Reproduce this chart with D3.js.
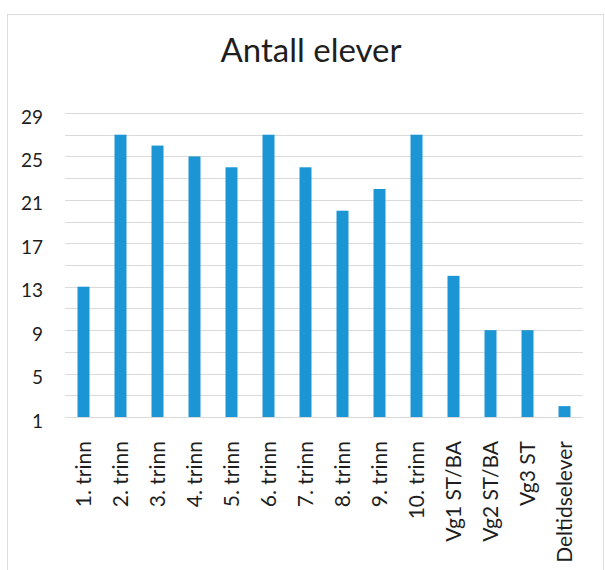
<!DOCTYPE html>
<html>
<head>
<meta charset="utf-8">
<script src="https://cdn.jsdelivr.net/npm/d3@7"></script>
<style>
  body { margin: 0; background: #fff; }
  svg { display: block; font-family: Lato, "Open Sans", sans-serif; }
</style>
</head>
<body>
<svg id="chart" width="605" height="570"></svg>
<script>
var title = "Antall elever"

var categories = ["1. trinn", "2. trinn", "3. trinn", "4. trinn", "5. trinn", "6. trinn",
	"7. trinn", "8. trinn", "9. trinn", "10. trinn", "Vg1 ST/BA", "Vg2 ST/BA", "Vg3 ST", "Deltidselever"]

var values = [13, 27, 26, 25, 24, 27, 24, 20, 22, 27, 14, 9, 9, 2]

var yTicks = [1, 5, 9, 13, 17, 21, 25, 29]
var gridValues = d3.range(1, 30, 2)

var svg = d3.select("#chart")

// chart frame
svg.append("rect")
	.attr("x", 7.5).attr("y", 14.5)
	.attr("width", 596).attr("height", 600)
	.attr("fill", "none")
	.attr("stroke", "#dcdcdc")

var x = d3.scaleBand()
	.domain(categories)
	.range([65, 583])
	.paddingInner(0.676)
	.paddingOuter(0.338)

var y = d3.scaleLinear()
	.domain([1, 29])
	.range([417, 113])

// gridlines
svg.append("g")
	.selectAll("line")
	.data(gridValues)
	.join("line")
	.attr("x1", 65).attr("x2", 583)
	.attr("y1", d => Math.round(y(d)) + 0.5)
	.attr("y2", d => Math.round(y(d)) + 0.5)
	.attr("stroke", "#dadada")
	.attr("stroke-width", 1)

// bars
svg.append("g")
	.selectAll("rect")
	.data(values)
	.join("rect")
	.attr("x", (d, i) => x(categories[i]))
	.attr("y", d => y(d))
	.attr("width", x.bandwidth())
	.attr("height", d => y(1) - y(d))
	.attr("fill", "#1b95d3")

// y axis labels
var yAxis = d3.axisLeft(y).tickValues(yTicks).tickSize(0).tickPadding(0)
svg.append("g")
	.attr("transform", "translate(43,4)")
	.call(yAxis)
	.call(g => g.select(".domain").remove())
	.call(g => g.selectAll("text")
		.attr("font-size", 19)
		.attr("font-family", "Lato, sans-serif")
		.attr("fill", "#1e1e1e"))

// x axis labels
var xAxis = d3.axisBottom(x).tickSize(0).tickPadding(0)
svg.append("g")
	.attr("transform", "translate(0,441)")
	.call(xAxis)
	.call(g => g.select(".domain").remove())
	.call(g => g.selectAll("text")
		.attr("font-size", 21)
		.attr("font-family", "Lato, sans-serif")
		.attr("fill", "#1e1e1e")
		.attr("transform", "rotate(-90)")
		.attr("text-anchor", "end")
		.attr("x", 0)
		.attr("y", 0)
		.attr("dy", "0.35em"))

// title
svg.append("text")
	.attr("x", 311)
	.attr("y", 62)
	.attr("text-anchor", "middle")
	.attr("font-size", 33)
	.attr("fill", "#1e1e1e")
	.text(title)
</script>
</body>
</html>
